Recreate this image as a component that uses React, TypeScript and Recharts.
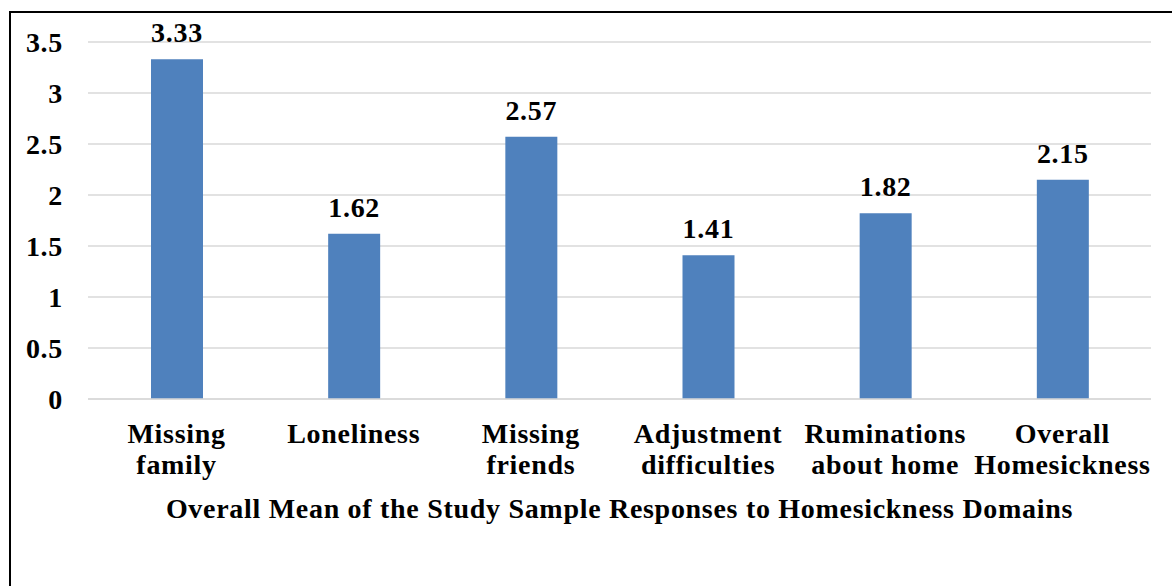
import React from 'react';
import { BarChart, Bar, XAxis, YAxis, CartesianGrid, LabelList } from 'recharts';

const categories = [
    'Missing family',
    'Loneliness',
    'Missing friends',
    'Adjustment difficulties',
    'Ruminations about home',
    'Overall Homesickness',
];
const means = [3.33, 1.62, 2.57, 1.41, 1.82, 2.15];
const yTicks = [0, 0.5, 1, 1.5, 2, 2.5, 3, 3.5];
const axisTitle = 'Overall Mean of the Study Sample Responses to Homesickness Domains';

const data = categories.map((name, i) => ({ name, mean: means[i] }));

const FONT = 'Liberation Serif, serif';
const textStyle = { fontFamily: FONT, fontWeight: 'bold' as const, fontSize: 28, letterSpacing: 0.7 };

// splits the category at its first space into two lines, like the original
const CategoryTick = (props: any) => {
    const { x, y, payload } = props;
    const label: string = payload.value;
    const cut = label.indexOf(' ');
    const lines = cut < 0 ? [label] : [label.slice(0, cut), label.slice(cut + 1)];
    return (
        <text x={x} y={y} textAnchor="middle" fill="#000" style={textStyle}>
            {lines.map((line, i) => (
                <tspan key={i} x={x} dy={i === 0 ? 44 : 31}>{line}</tspan>
            ))}
        </text>
    );
};

export default function App() {
    return (
        <div style={{ position: 'absolute', left: 0, top: 0, width: 1172, height: 586, background: '#fff', overflow: 'hidden', fontFamily: FONT }}>
            <div style={{ position: 'absolute', left: 9, top: 11, width: 1200, height: 600, borderLeft: '2px solid #000', borderTop: '2px solid #000' }} />
            <BarChart
                width={1172}
                height={586}
                data={data}
                margin={{ top: 42, right: 21, left: 28, bottom: 57 }}
                style={{ position: 'absolute', left: 0, top: 0, fontFamily: FONT }}
            >
                <CartesianGrid vertical={false} stroke="#d9d9d9" strokeWidth={1.5} />
                <XAxis
                    dataKey="name"
                    height={130}
                    axisLine={{ stroke: '#d9d9d9', strokeWidth: 1.5 }}
                    tickLine={false}
                    tickSize={0}
                    tickMargin={0}
                    interval={0}
                    tick={<CategoryTick />}
                    label={{ value: axisTitle, position: 'insideBottom', offset: 11, fill: '#000', style: textStyle }}
                />
                <YAxis
                    width={60}
                    domain={[0, 3.5]}
                    ticks={yTicks}
                    axisLine={false}
                    tickLine={false}
                    tickSize={0}
                    tickMargin={25}
                    tick={{ fill: '#000', style: textStyle }}
                />
                <Bar dataKey="mean" fill="#4f81bd" barSize={52} isAnimationActive={false}>
                    <LabelList dataKey="mean" position="top" offset={17} fill="#000" style={textStyle} />
                </Bar>
            </BarChart>
        </div>
    );
}
